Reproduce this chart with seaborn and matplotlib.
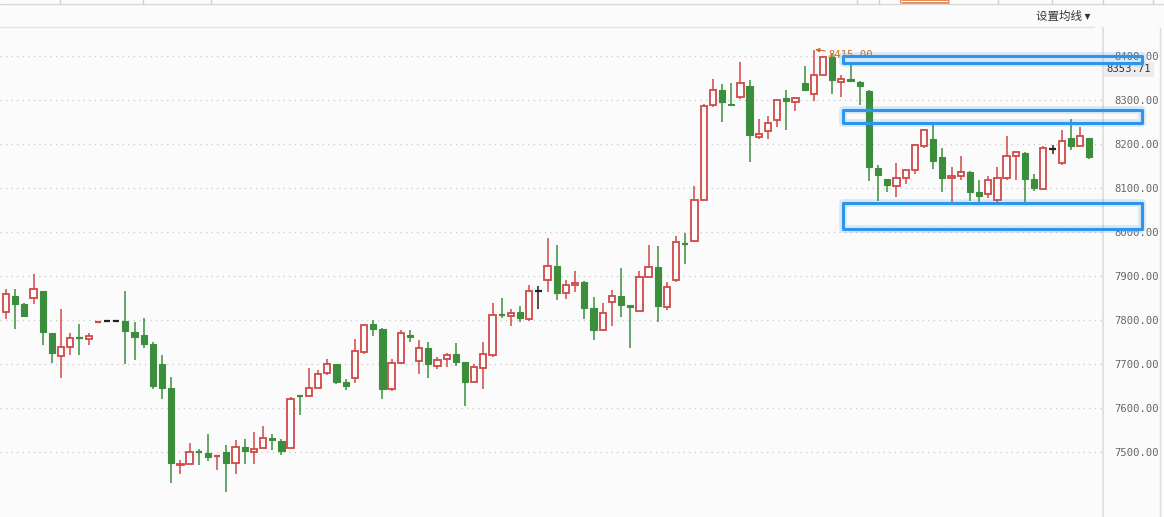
import numpy as np
import pandas as pd
import matplotlib
matplotlib.use("Agg")
import matplotlib.pyplot as plt
from matplotlib.patches import Rectangle
from matplotlib.lines import Line2D
import seaborn as sns

# ---- data (daily candles, oldest first) ----
opens = [7819, 7855, 7836, 7849, 7867, 7770, 7718, 7738, 7759, 7756,
         7796, 7797, 7797, 7798, 7773, 7766, 7746, 7699, 7646, 7470,
         7472, 7500, 7497, 7490, 7499, 7474, 7511, 7499, 7508, 7532,
         7524, 7510, 7628, 7627, 7645, 7679, 7699, 7658, 7669, 7727,
         7791, 7779, 7642, 7702, 7765, 7706, 7736, 7695, 7711, 7722,
         7704, 7658, 7690, 7720, 7811, 7808, 7818, 7802, 7866, 7890,
         7923, 7861, 7879, 7886, 7827, 7777, 7840, 7854, 7833, 7820,
         7897, 7920, 7829, 7890, 7973, 7979, 8074, 8288, 8324, 8292,
         8308, 8333, 8215, 8229, 8254, 8304, 8295, 8340, 8315, 8358,
         8397, 8342, 8347, 8341, 8320, 8146, 8120, 8105, 8124, 8140,
         8196, 8211, 8171, 8122, 8127, 8136, 8090, 8086, 8072, 8124,
         8172, 8179, 8120, 8099, 8189, 8158, 8213, 8195, 8213]
highs = [7870, 7870, 7839, 7904, 7867, 7770, 7824, 7770, 7790, 7770,
         7797, 7797, 7797, 7867, 7796, 7804, 7750, 7720, 7671, 7481,
         7521, 7507, 7540, 7492, 7515, 7527, 7529, 7545, 7559, 7541,
         7529, 7624, 7629, 7690, 7686, 7711, 7699, 7666, 7756, 7788,
         7800, 7781, 7711, 7777, 7777, 7755, 7749, 7715, 7724, 7747,
         7704, 7699, 7749, 7839, 7849, 7825, 7832, 7879, 7877, 7986,
         7970, 7890, 7911, 7889, 7852, 7839, 7868, 7918, 7833, 7911,
         7970, 7968, 7886, 7991, 7997, 8105, 8292, 8347, 8336, 8340,
         8386, 8345, 8256, 8265, 8301, 8324, 8308, 8377, 8415, 8400,
         8406, 8356, 8383, 8343, 8324, 8152, 8120, 8156, 8140, 8200,
         8231, 8247, 8190, 8149, 8174, 8138, 8118, 8127, 8149, 8218,
         8181, 8183, 8133, 8195, 8199, 8232, 8258, 8238, 8213]
lows = [7802, 7780, 7810, 7837, 7744, 7703, 7668, 7721, 7721, 7742,
        7796, 7797, 7797, 7699, 7708, 7737, 7644, 7621, 7430, 7449,
        7472, 7471, 7480, 7458, 7408, 7449, 7473, 7473, 7508, 7505,
        7492, 7510, 7583, 7627, 7645, 7674, 7655, 7640, 7656, 7722,
        7764, 7621, 7638, 7702, 7751, 7677, 7667, 7689, 7692, 7695,
        7605, 7658, 7642, 7715, 7804, 7787, 7795, 7797, 7826, 7864,
        7845, 7847, 7863, 7803, 7755, 7777, 7787, 7807, 7737, 7820,
        7897, 7796, 7823, 7886, 7927, 7979, 8074, 8285, 8251, 8289,
        8302, 8160, 8212, 8211, 8240, 8233, 8276, 8322, 8299, 8358,
        8313, 8306, 8344, 8288, 8115, 8071, 8092, 8080, 8110, 8133,
        8192, 8144, 8092, 8069, 8119, 8071, 8067, 8078, 8069, 8118,
        8119, 8067, 8094, 8096, 8177, 8152, 8187, 8195, 8167]
closes = [7858, 7837, 7810, 7870, 7772, 7724, 7738, 7758, 7758, 7764,
          7797, 7797, 7797, 7774, 7762, 7746, 7651, 7646, 7474, 7472,
          7499, 7499, 7489, 7491, 7474, 7511, 7501, 7506, 7531, 7526,
          7501, 7620, 7627, 7645, 7677, 7699, 7660, 7649, 7729, 7788,
          7780, 7644, 7702, 7770, 7761, 7736, 7699, 7710, 7720, 7705,
          7660, 7692, 7722, 7811, 7810, 7817, 7804, 7866, 7866, 7922,
          7861, 7879, 7885, 7828, 7778, 7817, 7854, 7835, 7829, 7898,
          7920, 7831, 7874, 7978, 7972, 8074, 8286, 8324, 8295, 8290,
          8340, 8221, 8224, 8249, 8301, 8299, 8304, 8322, 8358, 8397,
          8345, 8347, 8344, 8333, 8147, 8130, 8108, 8124, 8140, 8197,
          8231, 8162, 8124, 8127, 8136, 8092, 8083, 8118, 8124, 8172,
          8181, 8121, 8101, 8190, 8189, 8208, 8196, 8218, 8171]

price_ticks = [7500, 7600, 7700, 7800, 7900, 8000, 8100, 8200, 8300, 8400]
peak_index = 88
peak_label = "8415.00"
last_label = "8353.71"
menu_label = "设置均线 ▾"

# price zones boxed in blue (low, high)
zone_lows = [8384, 8248, 8007]
zone_highs = [8400, 8277, 8066]

RED = "#d24848"
GREEN = "#3b8e3b"
BLACK = "#222222"
BG = "#fbfbfb"

sns.set_theme(style="white")
plt.rcParams['font.family'] = ['Noto Sans CJK SC', 'DejaVu Sans']

df = pd.DataFrame({"open": opens, "high": highs, "low": lows, "close": closes})
df["idx"] = np.arange(len(df))
df["color"] = np.where(df["close"] > df["open"], RED,
                       np.where(df["close"] < df["open"], GREEN, BLACK))

W, H = 1164, 517
fig = plt.figure(figsize=(W / 100, H / 100), dpi=100)
fig.patch.set_facecolor(BG)
ax = fig.add_axes([0, 0, 1103 / W, 489 / H])
ax.set_facecolor(BG)

# wicks
ax.vlines(df["idx"], df["low"], df["high"], colors=df["color"], lw=1.1, zorder=2)

# bodies
bw = 0.68
for _, r in df.iterrows():
    lo, hi = min(r["open"], r["close"]), max(r["open"], r["close"])
    if hi - lo < 2:
        ax.hlines((lo + hi) / 2, r["idx"] - bw / 2, r["idx"] + bw / 2,
                  colors=r["color"], lw=1.6, zorder=3)
    elif r["color"] == RED:
        ax.bar(r["idx"], hi - lo, bottom=lo, width=bw, facecolor="white",
               edgecolor=RED, linewidth=1.3, zorder=3)
    else:
        ax.bar(r["idx"], hi - lo, bottom=lo, width=bw, facecolor=GREEN,
               edgecolor=GREEN, linewidth=0.8, zorder=3)

ax.set_xlim(-0.654, 119.5)
ax.set_ylim(7352, 8464)
ax.set_xticks([])
ax.set_yticks(price_ticks)
ax.yaxis.tick_right()
ax.set_yticklabels([f"{t:.2f}" for t in price_ticks], family="DejaVu Sans Mono",
                   fontsize=7.6, color="#666666")
ax.tick_params(axis="y", length=3, width=0.8, color="#cccccc", pad=5, right=True)
ax.yaxis.grid(True, linestyle=(0, (0.8, 3.2)), color="#c4c4c4", lw=1)
sns.despine(ax=ax, left=True, bottom=True, top=True, right=False)
ax.spines["right"].set_color("#dedede")

# peak marker
ax.annotate(peak_label, xy=(peak_index + 0.15, 8415), xytext=(peak_index + 1.6, 8403),
            color="#d2691e", fontsize=7.6, family="DejaVu Sans Mono", va="center",
            arrowprops=dict(arrowstyle="-|>", color="#d2691e", lw=0.8,
                            mutation_scale=6, shrinkA=0, shrinkB=0), zorder=4)

# last price tag on the axis
ax.text(1.003, 8370, last_label, transform=ax.get_yaxis_transform(),
        family="DejaVu Sans Mono", fontsize=7.6, color="#333333", va="center",
        ha="left", clip_on=False,
        bbox=dict(boxstyle="square,pad=0.25", fc="#ececec", ec="none"))

# blue zone boxes
x0, x1 = 91.2, 123.8
for lo, hi in zip(zone_lows, zone_highs):
    for lw, a in [(5.5, 0.18), (2.2, 1.0)]:
        ax.add_patch(Rectangle((x0, lo), x1 - x0, hi - lo, fill=False,
                               ec="#2f95ea", lw=lw, alpha=a, joinstyle="round",
                               clip_on=False, zorder=6))

# header chrome
fig.add_artist(Line2D([0, 1094 / W], [1 - 27 / H] * 2, color="#e4e4e4", lw=1))
fig.add_artist(Line2D([0, 1], [1 - 4 / H] * 2, color="#d8d8d8", lw=1))
for xs in [60, 143, 211, 857, 879, 901, 949, 998, 1052, 1103, 1153]:
    fig.add_artist(Line2D([xs / W] * 2, [1 - 4 / H, 1], color="#cfcfcf", lw=1))
fig.add_artist(Rectangle((901 / W, 1 - 3 / H), 48 / W, 3 / H, fill=False,
                         ec="#e0763a", lw=1.2, transform=fig.transFigure))
fig.add_artist(Line2D([1160 / W] * 2, [0, 1 - 28 / H], color="#dcdcdc", lw=1))
fig.text(1036 / W, 1 - 16 / H, menu_label, fontsize=8.3, color="#333333",
         va="center", ha="left")

fig.savefig("out.png", dpi=100, facecolor=BG)
